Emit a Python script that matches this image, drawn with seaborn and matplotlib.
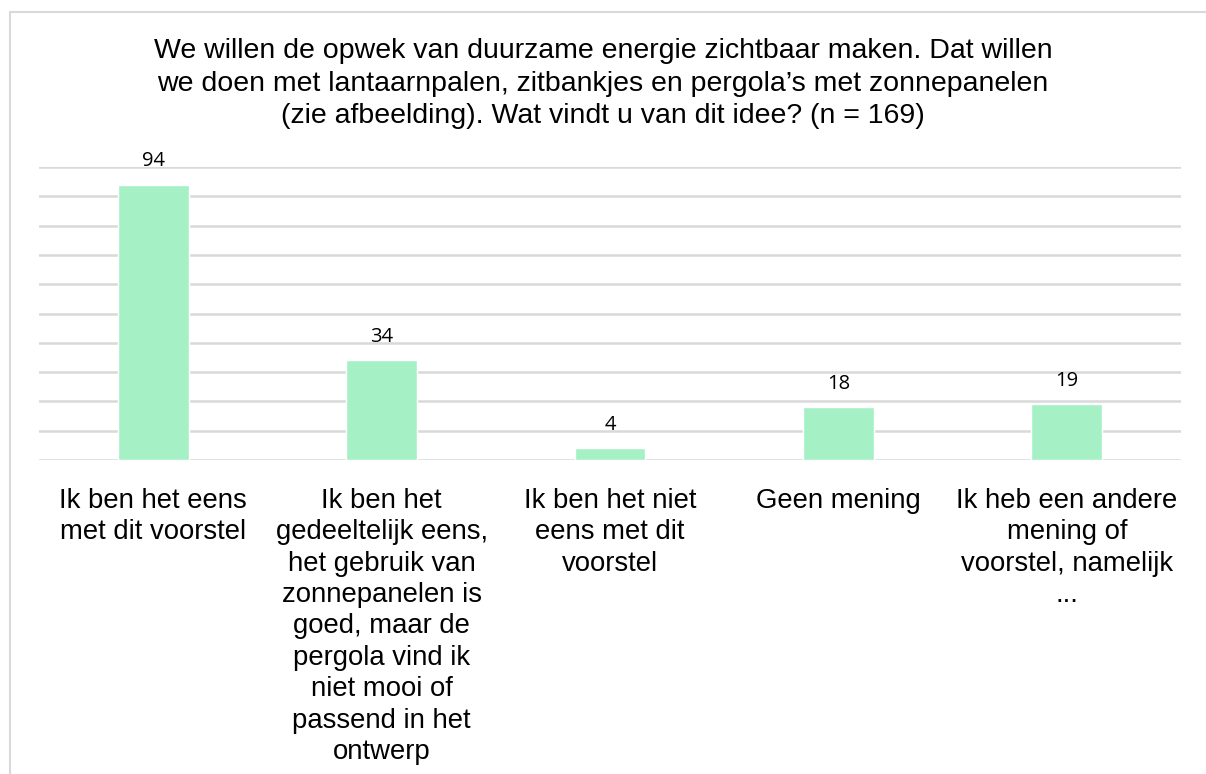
import matplotlib
matplotlib.use("Agg")
import matplotlib.pyplot as plt
import seaborn as sns
import pandas as pd
from matplotlib.patches import Rectangle

categories = [
    "Ik ben het eens\nmet dit voorstel",
    "Ik ben het\ngedeeltelijk eens,\nhet gebruik van\nzonnepanelen is\ngoed, maar de\npergola vind ik\nniet mooi of\npassend in het\nontwerp",
    "Ik ben het niet\neens met dit\nvoorstel",
    "Geen mening",
    "Ik heb een andere\nmening of\nvoorstel, namelijk\n...",
]
values = [94, 34, 4, 18, 19]
title = ("We willen de opwek van duurzame energie zichtbaar maken. Dat willen\n"
         "we doen met lantaarnpalen, zitbankjes en pergola\u2019s met zonnepanelen\n"
         "(zie afbeelding). Wat vindt u van dit idee? (n = 169)")

sns.set_style("white")
plt.rcParams['font.family'] = ['Liberation Sans', 'DejaVu Sans']

W, H = 1206, 774
fig = plt.figure(figsize=(W / 100, H / 100), dpi=100)
ax = fig.add_axes([39 / W, 1 - 460 / H, (1181 - 39) / W, (460 - 167) / H])

df = pd.DataFrame({"cat": categories, "val": values})
sns.barplot(data=df, x="cat", y="val", ax=ax, color="#A6F0C6", saturation=1,
            width=0.31, zorder=3)

ax.set_ylim(0, 100)
ax.set_xlim(-0.5, 4.5)
ax.set_yticks(range(0, 101, 10))
ax.set_yticklabels([])
ax.yaxis.grid(True, color="#D9D9D9", linewidth=1.8, zorder=0)
ax.set_axisbelow(True)
for s in ax.spines.values():
    s.set_visible(False)
ax.tick_params(axis="both", length=0)
ax.set_xlabel("")
ax.set_ylabel("")
ax.set_xticks(range(len(categories)))
ax.set_xticklabels(categories, fontsize=19.8, linespacing=1.27, color="#000000")
ax.tick_params(axis="x", pad=20)

for i, v in enumerate(values):
    ax.text(i, v + 6.3, str(v), ha="center", va="baseline", fontsize=14.5,
            family=["Open Sans", "DejaVu Sans"], color="#000000")

fig.text(603 / W, 1 - 38 / H, title, ha="center", va="top", fontsize=20.5,
         linespacing=1.33, color="#000000")

fig.patches.append(Rectangle((10 / W, -0.1), 2, (1 - 12 / H) + 0.1,
                             transform=fig.transFigure, fill=False,
                             edgecolor="#D9D9D9", linewidth=1.5))

fig.savefig("out.png", dpi=100, facecolor="white")
